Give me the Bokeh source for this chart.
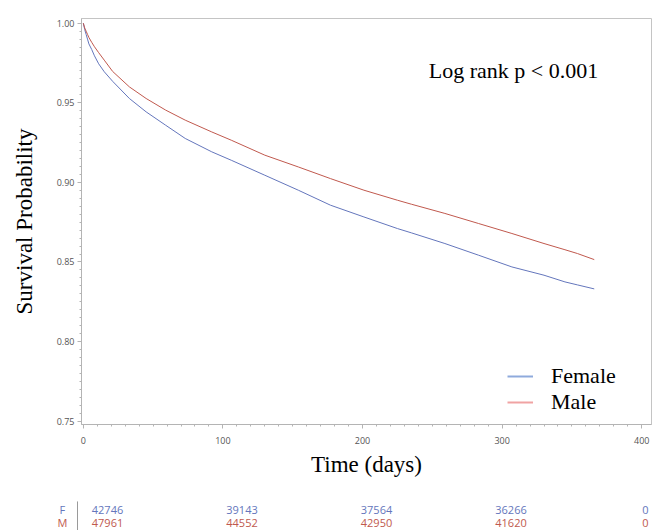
from bokeh.plotting import figure
from bokeh.models import Range1d, Label, Legend, LegendItem, NumeralTickFormatter, SingleIntervalTicker, ColumnDataSource
from bokeh.layouts import column
from bokeh.core.properties import value
from bokeh.embed import file_html
from bokeh.resources import INLINE

# ---- data ----
days = [0, 1, 2, 3, 4, 6, 8, 11, 15, 21, 33, 45, 59, 73, 92, 106, 130, 154, 177, 201, 225, 235, 259, 283,
        307, 330, 345, 354, 366]
surv_female = [1.0, 0.996, 0.993, 0.990, 0.987, 0.9835, 0.9795, 0.9745, 0.9695, 0.9635, 0.9527, 0.9443,
               0.9359, 0.9276, 0.9192, 0.9139, 0.9045, 0.8951, 0.8857, 0.8783, 0.8710, 0.8683, 0.8616,
               0.8543, 0.8469, 0.8417, 0.8375, 0.8356, 0.8331]
surv_male = [1.0, 0.997, 0.995, 0.993, 0.9910, 0.9880, 0.9852, 0.9815, 0.9768, 0.9697, 0.9600, 0.9527,
             0.9454, 0.9391, 0.9317, 0.9265, 0.9171, 0.9097, 0.9024, 0.8951, 0.8888, 0.8863, 0.8805,
             0.8742, 0.8679, 0.8616, 0.8577, 0.8553, 0.8515]

table_days = [0, 100, 200, 300, 400]
at_risk_female = [42746, 39143, 37564, 36266, 0]
at_risk_male = [47961, 44552, 42950, 41620, 0]
row_labels = ["F", "M"]
series_labels = ["Female", "Male"]
annotation_text = "Log rank p < 0.001"

BLUE = "#6476BC"
RED = "#C0594E"
BLUE_LEG = "#8FAADC"
RED_LEG = "#F0A3A3"
AXIS_GREY = "#B4B4B4"

p = figure(frame_width=570, frame_height=406,
           min_border_left=81, min_border_right=11, min_border_top=18, min_border_bottom=64,
           x_range=Range1d(-1.3, 407), y_range=Range1d(0.74792, 1.00295),
           output_backend="svg", toolbar_location=None)
p.frame_align = False
p.xgrid.visible = False
p.ygrid.visible = False
p.outline_line_color = "#C4C4C4"
p.background_fill_color = "white"
p.border_fill_color = "white"

p.line(days, surv_female, line_color=BLUE, line_width=1.0)
p.line(days, surv_male, line_color=RED, line_width=1.0)

# legend samples (lighter, as in the reference); a single point draws nothing in the plot
lf = p.line(days[:1], surv_female[:1], line_color=BLUE_LEG, line_width=2)
lm = p.line(days[:1], surv_male[:1], line_color=RED_LEG, line_width=2)
legend = Legend(items=[LegendItem(label=series_labels[0], renderers=[lf]),
                       LegendItem(label=series_labels[1], renderers=[lm])],
                location=(426, 9), padding=0, margin=0, spacing=-5,
                glyph_width=26, glyph_height=22, label_height=22, label_standoff=18,
                label_text_font="Liberation Serif", label_text_font_size="22px",
                label_text_color="black",
                border_line_alpha=0, background_fill_alpha=0)
p.add_layout(legend)

p.xaxis.ticker = SingleIntervalTicker(interval=100, num_minor_ticks=10)
p.yaxis.ticker = SingleIntervalTicker(interval=0.05, num_minor_ticks=10)
p.yaxis.formatter = NumeralTickFormatter(format="0.00")
for ax in (p.xaxis, p.yaxis):
    ax.axis_line_color = AXIS_GREY
    ax.major_tick_line_color = AXIS_GREY
    ax.minor_tick_line_color = AXIS_GREY
    ax.major_tick_out = 4
    ax.major_tick_in = 0
    ax.minor_tick_out = 2
    ax.minor_tick_in = 0
    ax.major_label_text_font = "Open Sans"
    ax.major_label_text_font_size = "9px"
    ax.major_label_text_color = "#555555"
    ax.axis_label_text_font = "Liberation Serif"
    ax.axis_label_text_font_size = "23px"
    ax.axis_label_text_font_style = "normal"
    ax.axis_label_text_color = "black"
p.xaxis.major_label_standoff = 8
p.yaxis.major_label_standoff = 3
p.xaxis.axis_label = "Time (days)"
p.yaxis.axis_label = "Survival Probability"
p.xaxis.axis_label_standoff = 5
p.yaxis.axis_label_standoff = 17

p.add_layout(Label(x=247.5, y=0.9705, text=annotation_text, text_align="left", text_baseline="middle",
                   text_font="Liberation Serif", text_font_size="22px", text_color="black"))

# ---- number at risk table ----
t = figure(width=662, height=42, x_range=Range1d(-79.55, 412.64), y_range=Range1d(-0.615, 2.615),
           min_border=0, min_border_left=0, min_border_right=0, min_border_top=0, min_border_bottom=0,
           toolbar_location=None, output_backend="svg", x_axis_location=None, y_axis_location=None)
t.frame_align = False
t.outline_line_color = None
t.xgrid.visible = False
t.ygrid.visible = False

src = ColumnDataSource(dict(
    x=table_days + table_days,
    y=[1] * len(table_days) + [0] * len(table_days),
    txt=[str(v) for v in at_risk_female] + [str(v) for v in at_risk_male],
    col=[BLUE] * len(table_days) + [RED] * len(table_days),
))
t.text(x="x", y="y", text="txt", text_color="col", source=src, text_align="center", text_baseline="middle",
       text_font=value("Open Sans"), text_font_size="11px")
lab = ColumnDataSource(dict(x=[-33.5, -33.5], y=[1, 0], txt=row_labels, col=[BLUE, RED]))
t.text(x="x", y="y", text="txt", text_color="col", source=lab, text_align="center", text_baseline="middle",
       text_font=value("Open Sans"), text_font_size="11px")
t.segment(x0=[-22.3], y0=[-0.615], x1=[-22.3], y1=[1.62], line_color="#9A9A9A", line_width=1)

layout = column(p, t, spacing=0)
open("out.html", "w").write(file_html(layout, INLINE))
